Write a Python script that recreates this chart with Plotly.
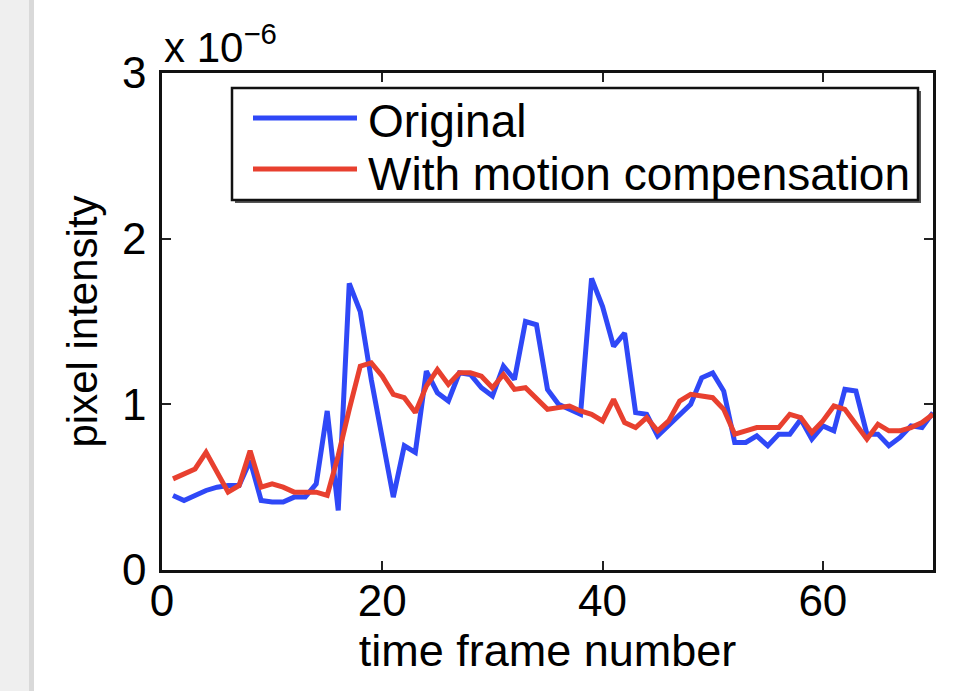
import plotly.graph_objects as go

# frame numbers
frames = list(range(1, 71))

# pixel intensity (units of 1e-6)
original = [0.45, 0.42, 0.45, 0.48, 0.50, 0.51, 0.51, 0.66, 0.42, 0.41,
            0.41, 0.44, 0.44, 0.52, 0.96, 0.36, 1.73, 1.56, 1.15, 0.78,
            0.44, 0.75, 0.71, 1.20, 1.07, 1.02, 1.19, 1.18, 1.10, 1.05,
            1.23, 1.15, 1.50, 1.48, 1.09, 1.00, 0.97, 0.94, 1.76, 1.59,
            1.35, 1.43, 0.95, 0.94, 0.81, 0.87, 0.94, 1.00, 1.16, 1.19,
            1.08, 0.77, 0.77, 0.81, 0.75, 0.82, 0.82, 0.91, 0.79, 0.87,
            0.84, 1.09, 1.08, 0.82, 0.82, 0.75, 0.80, 0.87, 0.86, 0.95]

motion_comp = [0.55, 0.58, 0.61, 0.71, 0.59, 0.47, 0.51, 0.72, 0.50, 0.52,
               0.50, 0.47, 0.47, 0.47, 0.45, 0.69, 0.97, 1.23, 1.25, 1.17,
               1.06, 1.04, 0.95, 1.11, 1.21, 1.12, 1.19, 1.19, 1.17, 1.10,
               1.18, 1.09, 1.10, 1.04, 0.97, 0.98, 0.99, 0.96, 0.94, 0.90,
               1.03, 0.89, 0.86, 0.92, 0.84, 0.90, 1.02, 1.06, 1.05, 1.04,
               0.97, 0.82, 0.84, 0.86, 0.86, 0.86, 0.94, 0.92, 0.83, 0.90,
               0.99, 0.97, 0.88, 0.79, 0.88, 0.84, 0.84, 0.86, 0.89, 0.94]

series_names = ["Original", "With motion compensation"]
series_colors = ["#2f48f7", "#e8402f"]

x_ticks = [0, 20, 40, 60]
y_ticks = [0, 1, 2, 3]

FONT = "Liberation Sans, Arial, Helvetica, sans-serif"
TICK_FS = 44

fig = go.Figure()
for name, vals, col in zip(series_names, [original, motion_comp], series_colors):
    fig.add_trace(go.Scatter(x=frames, y=vals, mode="lines", name=name,
                             line=dict(color=col, width=5), showlegend=False))

W, H = 974, 691
L, R, T, B = 162, 41, 73, 121
fig.update_layout(
    width=W, height=H,
    margin=dict(l=L, r=R, t=T, b=B),
    paper_bgcolor="white", plot_bgcolor="white",
    font=dict(family=FONT, size=TICK_FS, color="black"),
    xaxis=dict(range=[0, 70], tickvals=x_ticks, ticks="inside", ticklen=9,
               tickwidth=1.5, tickcolor="#222", showline=True, linecolor="#111",
               linewidth=2.5, mirror="allticks", showgrid=False, zeroline=False,
               title=dict(text="time frame number", standoff=0,
                          font=dict(size=45, family=FONT)),
               tickfont=dict(size=TICK_FS), ticklabelstandoff=-10),
    yaxis=dict(range=[0, 3], tickvals=y_ticks, ticks="inside", ticklen=9,
               tickwidth=1.5, tickcolor="#222", showline=True, linecolor="#111",
               linewidth=2.5, mirror="allticks", showgrid=False, zeroline=False,
               title=dict(text="pixel intensity", standoff=12,
                          font=dict(size=42, family=FONT)),
               tickfont=dict(size=TICK_FS), ticklabelstandoff=4),
)

# exponent label, MATLAB style
fig.add_annotation(xref="paper", yref="paper", x=0.0, y=1.0, xanchor="left",
                   yanchor="bottom", yshift=0,
                   text="x 10<sup>−6</sup>", showarrow=False,
                   font=dict(size=42, family=FONT))

# left page shadow strip
fig.add_shape(type="rect", xref="paper", yref="paper",
              x0=-L / (W - L - R), x1=(33 - L) / (W - L - R), y0=-B / (H - T - B),
              y1=1 + T / (H - T - B), fillcolor="#efefef", line_width=0, layer="below")
fig.add_shape(type="rect", xref="paper", yref="paper",
              x0=(29 - L) / (W - L - R), x1=(34 - L) / (W - L - R), y0=-B / (H - T - B),
              y1=1 + T / (H - T - B), fillcolor="#d9d9d9", line_width=0, layer="below")

# custom legend box (MATLAB style with long line samples)
pw, ph = W - L - R, H - T - B
def px(xp):
    return (xp - L) / pw
def py(yp):
    return (H - B - yp) / ph

fig.add_shape(type="rect", xref="paper", yref="paper",
              x0=px(235), x1=px(921), y0=py(203), y1=py(91),
              fillcolor="#555", line_width=0)
fig.add_shape(type="rect", xref="paper", yref="paper",
              x0=px(232), x1=px(918), y0=py(200), y1=py(88),
              fillcolor="white", line=dict(color="#111", width=2.5))
line_rows = [118, 169]
text_rows = [121, 174]
for name, col, ly, ty in zip(series_names, series_colors, line_rows, text_rows):
    fig.add_shape(type="line", xref="paper", yref="paper",
                  x0=px(253), x1=px(357), y0=py(ly), y1=py(ly),
                  line=dict(color=col, width=5))
    fig.add_annotation(xref="paper", yref="paper", x=px(366), y=py(ty),
                       xanchor="left", yanchor="middle", text=name,
                       showarrow=False, font=dict(size=46, family=FONT))

fig.write_html("out.html")
